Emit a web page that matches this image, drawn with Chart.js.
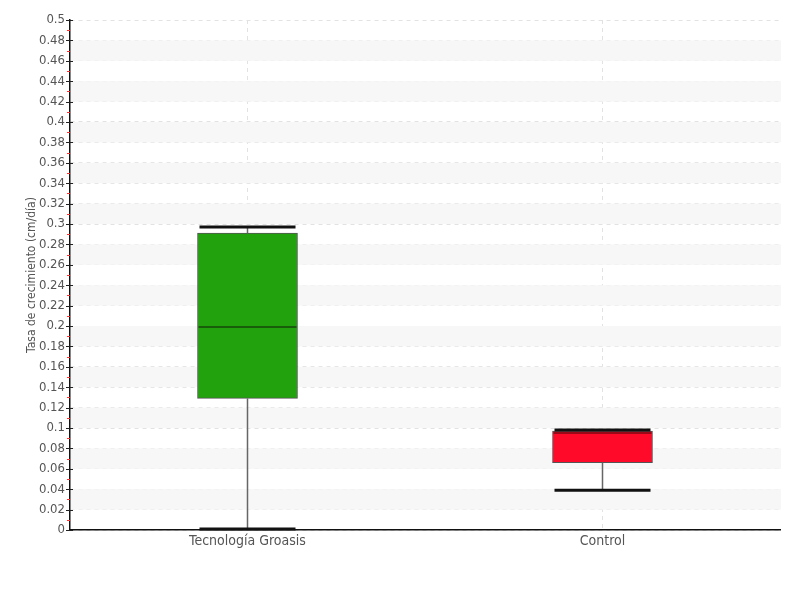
<!DOCTYPE html>
<html>
<head>
<meta charset="utf-8">
<script src="https://cdn.jsdelivr.net/npm/chart.js@4"></script>
<style>
  html, body { margin: 0; padding: 0; background: #fff; }
  #wrap { width: 800px; height: 600px; }
</style>
</head>
<body>
<div id="wrap"><canvas id="box"></canvas></div>
<script>
// box plot values
const categories = ['Tecnología Groasis', 'Control'];
const whiskerMin = [0.001, 0.039];
const q1Values   = [0.129, 0.066];
const medians    = [0.199, 0.095];
const q3Values   = [0.291, 0.097];
const whiskerMax = [0.297, 0.098];
const boxColors    = ['#22a30e', '#ff0a28'];
const medianColors = ['#14460a', '#7a0a14'];

const FONT = '"DejaVu Sans Condensed", "Liberation Sans Narrow", sans-serif';

// light bands every other 0.02 step, plus the small tick marks
const bandPlugin = {
  id: 'bands',
  beforeDatasetsDraw(chart) {
    const { ctx, chartArea: a, scales: { y } } = chart;
    ctx.save();
    ctx.fillStyle = '#f7f7f7';
    for (let i = 2; i < 50; i += 4) {
      const top = y.getPixelForValue((i + 2) / 100);
      const bot = y.getPixelForValue(i / 100);
      ctx.fillRect(a.left + 1, top, a.right - a.left, bot - top);
    }
    ctx.restore();
  },
  afterDraw(chart) {
    const { ctx, chartArea: a, scales: { y } } = chart;
    ctx.save();
    // red minor ticks
    ctx.strokeStyle = '#ff3030';
    ctx.lineWidth = 1;
    for (let i = 1; i < 50; i += 2) {
      const py = Math.round(y.getPixelForValue(i / 100)) + 0.5;
      ctx.beginPath();
      ctx.moveTo(a.left - 3, py);
      ctx.lineTo(a.left, py);
      ctx.stroke();
    }
    // black major ticks
    ctx.strokeStyle = '#222';
    for (let i = 0; i <= 50; i += 2) {
      const py = Math.round(y.getPixelForValue(i / 100)) + 0.5;
      ctx.beginPath();
      ctx.moveTo(a.left - 4, py);
      ctx.lineTo(a.left + 3, py);
      ctx.stroke();
    }
    ctx.restore();
  }
};

// whiskers, caps and median lines
const whiskerPlugin = {
  id: 'whiskers',
  afterDatasetsDraw(chart) {
    const { ctx, scales: { x, y } } = chart;
    const meta = chart.getDatasetMeta(0);
    ctx.save();
    categories.forEach((c, i) => {
      const bar = meta.data[i];
      const cx = x.getPixelForValue(i);
      const half = bar.width / 2;
      // whisker stems
      ctx.strokeStyle = '#666';
      ctx.lineWidth = 1.5;
      ctx.beginPath();
      ctx.moveTo(cx, y.getPixelForValue(whiskerMax[i]));
      ctx.lineTo(cx, y.getPixelForValue(q3Values[i]));
      ctx.moveTo(cx, y.getPixelForValue(q1Values[i]));
      ctx.lineTo(cx, y.getPixelForValue(whiskerMin[i]));
      ctx.stroke();
      // caps
      ctx.strokeStyle = '#111';
      ctx.lineWidth = 3;
      [whiskerMin[i], whiskerMax[i]].forEach(v => {
        const py = y.getPixelForValue(v);
        ctx.beginPath();
        ctx.moveTo(cx - half + 2, py);
        ctx.lineTo(cx + half - 2, py);
        ctx.stroke();
      });
      // median
      ctx.strokeStyle = medianColors[i];
      ctx.lineWidth = 1.5;
      const my = y.getPixelForValue(medians[i]);
      ctx.beginPath();
      ctx.moveTo(cx - half + 1, my);
      ctx.lineTo(cx + half - 1, my);
      ctx.stroke();
    });
    ctx.restore();
  }
};

new Chart(document.getElementById('box'), {
  type: 'bar',
  data: {
    labels: categories,
    datasets: [{
      data: categories.map((c, i) => [q1Values[i], q3Values[i]]),
      backgroundColor: boxColors,
      borderColor: '#555',
      borderWidth: 1,
      borderSkipped: false,
      barThickness: 100
    }]
  },
  options: {
    responsive: true,
    maintainAspectRatio: false,
    animation: false,
    layout: { padding: { top: 20, right: 20, left: 25, bottom: 0 } },
    plugins: {
      legend: { display: false },
      tooltip: { enabled: false }
    },
    scales: {
      x: {
        offset: true,
        afterFit: s => { s.height = 70; },
        grid: {
          offset: false,
          color: '#e2e2e2',
          drawTicks: false
        },
        border: { color: '#111', width: 1.5, dash: [4, 4] },
        ticks: {
          color: '#555',
          padding: 3,
          font: { family: FONT, size: 14 }
        }
      },
      y: {
        min: 0,
        max: 0.5,
        afterFit: s => { s.width = 45; },
        grid: {
          color: '#e2e2e2',
          drawTicks: false
        },
        border: { color: '#111', width: 1.5, dash: [4, 4] },
        ticks: {
          stepSize: 0.02,
          color: '#555',
          padding: 5,
          font: { family: FONT, size: 13 },
          callback: v => String(Math.round(v * 100) / 100)
        },
        title: {
          display: true,
          text: 'Tasa de crecimiento (cm/día)',
          color: '#555',
          padding: { top: 0, bottom: 0 },
          font: { family: FONT, size: 12 }
        }
      }
    }
  },
  plugins: [bandPlugin, whiskerPlugin]
});
</script>
</body>
</html>
